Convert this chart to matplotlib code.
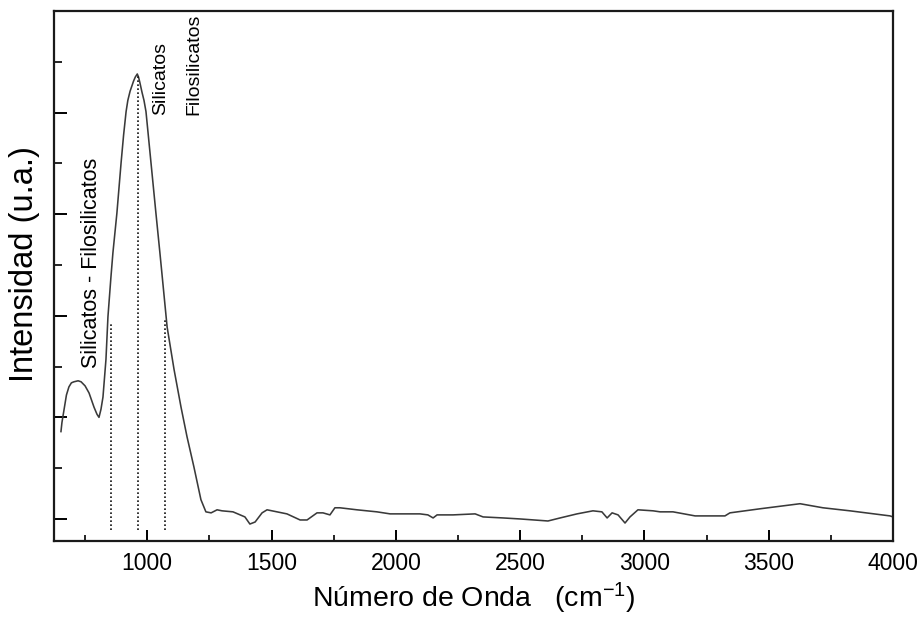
import matplotlib
matplotlib.use("Agg")
import matplotlib.pyplot as plt
from matplotlib.ticker import MultipleLocator

# ---- data ----
wavenumber = [653, 657, 665, 675, 685, 695, 705, 722, 734, 750, 766, 786, 798, 806, 814,
              822, 834, 842, 854, 862, 878, 895, 905, 915, 922, 931, 945, 952, 960, 965,
              970, 979, 987, 995, 1015,
              1035, 1051, 1059, 1080, 1108, 1136, 1160, 1188, 1216, 1236, 1257, 1281, 1301,
              1345, 1393, 1413, 1434, 1462, 1482, 1562, 1615, 1643, 1683, 1707, 1735, 1755,
              1775, 1844, 1924, 1977, 2045, 2097, 2129, 2150, 2166, 2230, 2319, 2351, 2431,
              2500, 2612, 2661, 2729, 2793, 2829, 2850, 2870, 2894, 2922, 2942, 2974, 3035,
              3063, 3115, 3204, 3324, 3344, 3465, 3626, 3718, 3827, 3988, 4000]
intensity = [0.86, 0.95, 1.07, 1.22, 1.30, 1.34, 1.35, 1.36, 1.35, 1.31, 1.24, 1.10, 1.03,
             1.00, 1.08, 1.20, 1.57, 1.99, 2.38, 2.62, 3.01, 3.51, 3.78, 4.01, 4.12, 4.21,
             4.31, 4.35, 4.38, 4.35, 4.30, 4.20, 4.12, 4.01, 3.51,
             3.01, 2.62, 2.42, 1.89, 1.47, 1.10, 0.81, 0.51, 0.19,
             0.07, 0.06, 0.09, 0.08, 0.07, 0.02, -0.05, -0.03, 0.06, 0.09, 0.05, -0.01,
             -0.01, 0.06, 0.06, 0.04, 0.11, 0.11, 0.09, 0.07, 0.05, 0.05, 0.05, 0.04, 0.01,
             0.04, 0.04, 0.05, 0.02, 0.01, 0.00, -0.02, 0.01, 0.05, 0.08, 0.07, 0.01, 0.06,
             0.04, -0.04, 0.02, 0.09, 0.08, 0.07, 0.07, 0.03, 0.03, 0.06, 0.10, 0.15, 0.11,
             0.08, 0.03, 0.02]

marker_x = [855, 963, 1072]
marker_top = [1.94, 4.37, 1.98]
marker_bottom = -0.11

xticks = [1000, 1500, 2000, 2500, 3000, 3500, 4000]
x_limits = (625, 4000)
y_limits = (-0.217, 5.0)

labels_text = {
    "left": "Silicatos - Filosilicatos",
    "top1": "Silicatos",
    "top2": "Filosilicatos",
}

plt.rcParams['font.family'] = ['Liberation Sans', 'DejaVu Sans']
plt.rcParams['mathtext.fontset'] = 'custom'
plt.rcParams['mathtext.rm'] = 'Liberation Sans'
plt.rcParams['mathtext.it'] = 'Liberation Sans:italic'

fig = plt.figure(figsize=(9.24, 6.19), dpi=100)
ax = fig.add_axes([54/924, 1-541/619, (893-54)/924, (541-11)/619])

ax.plot(wavenumber, intensity, color='#3a3a3a', lw=1.15)
for mx, mt in zip(marker_x, marker_top):
    ax.plot([mx, mx], [marker_bottom, mt], ls=(0, (1.0, 1.4)), color='#111111', lw=1.2)

ax.set_xlim(*x_limits)
ax.set_ylim(*y_limits)
ax.set_xticks(xticks)
ax.xaxis.set_minor_locator(MultipleLocator(250))
ax.yaxis.set_major_locator(MultipleLocator(1))
ax.yaxis.set_minor_locator(MultipleLocator(0.5))
ax.set_yticklabels([])
ax.tick_params(axis='x', which='major', direction='in', length=7.7, width=1.4,
               labelsize=16.5, pad=8, top=False)
ax.tick_params(axis='x', which='minor', direction='in', length=4.5, width=1.2, top=False)
ax.tick_params(axis='y', which='major', direction='in', length=9.5, width=1.4,
               right=False, labelleft=False)
ax.tick_params(axis='y', which='minor', direction='in', length=5.5, width=1.2, right=False)
for s in ax.spines.values():
    s.set_linewidth(1.6)
    s.set_color('#1a1a1a')

ax.set_xlabel(r"Número de Onda   (cm$^{\mathrm{-1}}$)", fontsize=20.5, labelpad=4)
fig.text(25/924, 1-264/619, "Intensidad (u.a.)", rotation=90, fontsize=23.5,
         ha='center', va='center')

ax.text(774, 1.49, labels_text["left"], rotation=90, fontsize=15.5, ha='center', va='bottom')
ax.text(1055, 3.98, labels_text["top1"], rotation=90, fontsize=14, ha='center', va='bottom')
ax.text(1186, 3.98, labels_text["top2"], rotation=90, fontsize=14, ha='center', va='bottom')

fig.savefig("out.png", dpi=100)
